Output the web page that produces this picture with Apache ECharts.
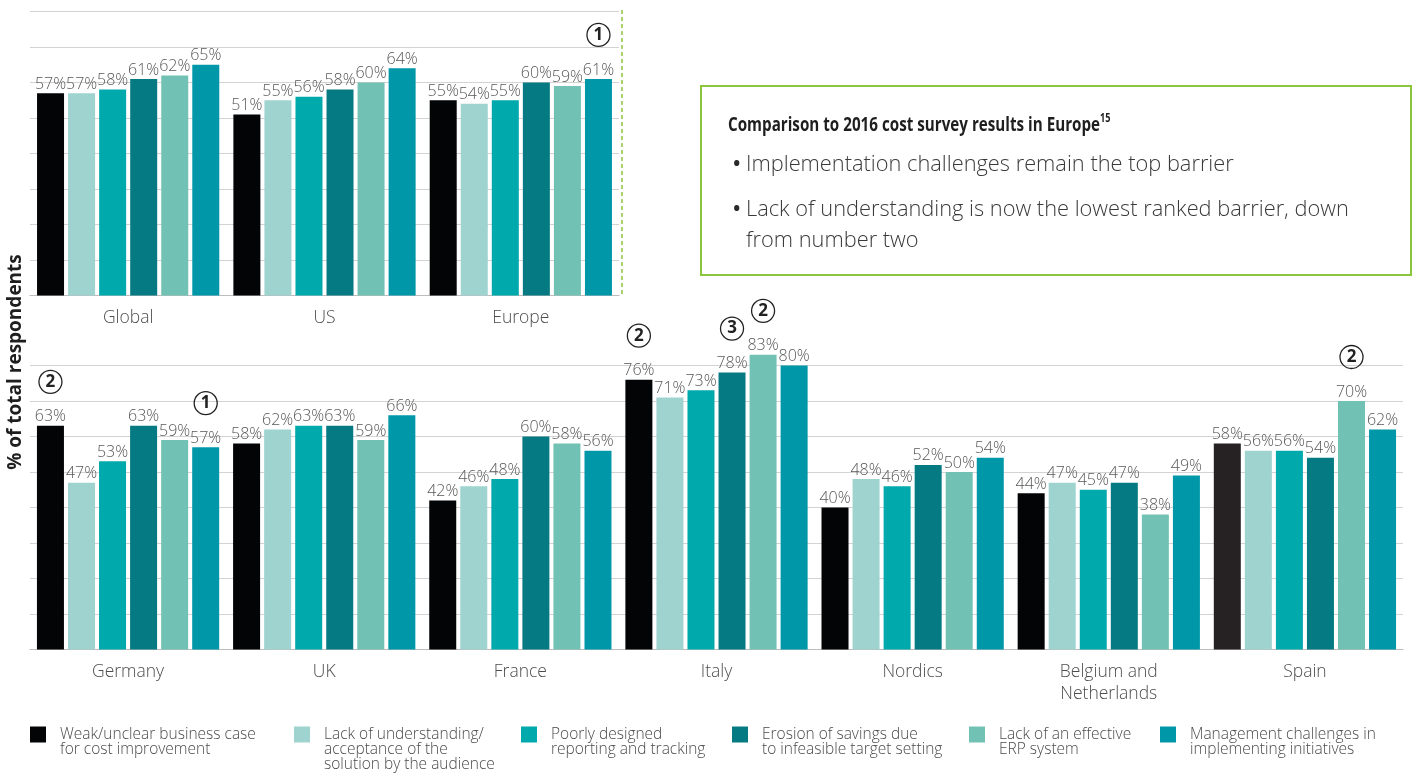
<!DOCTYPE html>
<html>
<head>
<meta charset="utf-8">
<script src="https://cdn.jsdelivr.net/npm/echarts@6/dist/echarts.min.js"></script>
<style>
html,body{margin:0;padding:0;background:#fff;}
#chart{width:1413px;height:774px;}
</style>
</head>
<body>
<div id="chart"></div>
<script>
// ---- Data ----
const regionsTop = ['Global', 'US', 'Europe'];
const regionsBottom = ['Germany', 'UK', 'France', 'Italy', 'Nordics', 'Belgium and\nNetherlands', 'Spain'];
const regions = regionsTop.concat(regionsBottom);

const seriesNames = [
  'Weak/unclear business case for cost improvement',
  'Lack of understanding/ acceptance of the solution by the audience',
  'Poorly designed reporting and tracking',
  'Erosion of savings due to infeasible target setting',
  'Lack of an effective ERP system',
  'Management challenges in implementing initiatives'
];
const legendLines = [
  ['Weak/unclear business case', 'for cost improvement'],
  ['Lack of understanding/', 'acceptance of the', 'solution by the audience'],
  ['Poorly designed', 'reporting and tracking'],
  ['Erosion of savings due', 'to infeasible target setting'],
  ['Lack of an effective', 'ERP system'],
  ['Management challenges in', 'implementing initiatives']
];

// values per series, in the order of `regions`
const weakCase          = [57, 51, 55, 63, 58, 42, 76, 40, 44, 58];
const lackUnderstanding = [57, 55, 54, 47, 62, 46, 71, 48, 47, 56];
const poorReporting     = [58, 56, 55, 53, 63, 48, 73, 46, 45, 56];
const erosionSavings    = [61, 58, 60, 63, 63, 60, 78, 52, 47, 54];
const lackERP           = [62, 60, 59, 59, 59, 58, 83, 50, 38, 70];
const mgmtChallenges    = [65, 64, 61, 57, 66, 56, 80, 54, 49, 62];
const seriesValues = [weakCase, lackUnderstanding, poorReporting, erosionSavings, lackERP, mgmtChallenges];

// circled note markers: [region, series index, number]
const notes = [
  ['Europe', 5, '1'],
  ['Germany', 0, '2'],
  ['Germany', 5, '1'],
  ['Italy', 0, '2'],
  ['Italy', 3, '3'],
  ['Italy', 4, '2'],
  ['Spain', 4, '2']
];

const boxTitle = 'Comparison to 2016 cost survey results in Europe';
const boxTitleSup = '15';
const boxBullets = [
  ['Implementation challenges remain the top barrier'],
  ['Lack of understanding is now the lowest ranked barrier, down', 'from number two']
];
const yAxisTitle = '% of total respondents';
const yTicks = {min: 0, max: 80, interval: 10};

// ---- Styles ----
const colors = ['#030406', '#9ed3cf', '#00a9ab', '#067a82', '#71c2b4', '#0097a9'];
const spainBlack = '#262223';
const FONT = "'Open Sans', 'Noto Sans', sans-serif";
const gridColor = '#d3d3d3';

function noteFor(region, si) {
  const n = notes.find(x => x[0] === region && x[1] === si);
  return n ? n[2] : null;
}

const chart = echarts.init(document.getElementById('chart'));

const gridTopBox = {left: 30, top: 11.5, width: 589, height: 284};
const gridBotBox = {left: 30, top: 365.5, width: 1373, height: 284};

function xAxisCfg(gridIndex, data) {
  return {
    type: 'category', gridIndex, data,
    axisTick: {show: false},
    axisLine: {show: true, lineStyle: {color: '#bdbdbd', width: 1.2}},
    axisLabel: {color: '#4d4d4d', fontSize: 17.5, fontWeight: 300, fontFamily: FONT, margin: 12, lineHeight: 22}
  };
}
function yAxisCfg(gridIndex) {
  return {
    type: 'value', gridIndex, min: yTicks.min, max: yTicks.max, interval: yTicks.interval,
    axisLabel: {show: false}, axisTick: {show: false}, axisLine: {show: false},
    splitLine: {show: true, lineStyle: {color: gridColor, width: 1.2}}
  };
}

const series = [];
seriesValues.forEach((vals, si) => {
  [[regionsTop, 0, 0], [regionsBottom, 1, 3]].forEach(([cats, axisIdx, offset]) => {
    series.push({
      name: seriesNames[si],
      type: 'bar',
      xAxisIndex: axisIdx, yAxisIndex: axisIdx,
      barWidth: 27,
      barGap: '15%',
      clip: false,
      itemStyle: {color: colors[si]},
      data: cats.map((c, ci) => {
        const v = vals[ci + offset];
        if (si === 0 && c === 'Spain') return {value: v, itemStyle: {color: spainBlack}};
        return v;
      }),
      label: {
        show: true, position: 'top', distance: 1,
        color: '#585858', fontSize: 16, fontWeight: 300, fontFamily: FONT,
        formatter: p => {
          const n = noteFor(cats[p.dataIndex], si);
          return n ? `{n|${n}}\n{v|${p.value}%}` : `${p.value}%`;
        },
        rich: {
          n: {width: 23, height: 23, borderRadius: 12.5, borderColor: '#222', borderWidth: 1.3,
              align: 'center', fontSize: 17, fontWeight: 'bold', color: '#222', lineHeight: 54, fontFamily: FONT},
          v: {color: '#585858', fontSize: 16, fontWeight: 300, fontFamily: FONT, lineHeight: 16, align: 'center'}
        }
      }
    });
  });
});

// legends: one component per entry to place them like the original
const legendIconLefts = [30, 294, 521, 732, 969, 1160];
const legendIconTop = 726;
const legendLH = 15;
const legends = seriesNames.map((nm, i) => {
  const n = legendLines[i].length;
  const H = (2 * n - 1) * legendLH;
  const blank = new Array(n - 1).fill('').join('\n');
  return {
    data: [nm],
    left: legendIconLefts[i],
    top: legendIconTop - (H / 2 - 8),
    padding: 0,
    icon: 'rect',
    itemWidth: 16, itemHeight: 16,
    selectedMode: true,
    formatter: () => blank + '\n' + legendLines[i].join('\n'),
    textStyle: {
      color: '#4a4a4a', fontSize: 15.5, fontWeight: 300, fontFamily: FONT, lineHeight: legendLH,
      padding: [0, 0, 0, 9]
    }
  };
});

const graphics = [
  // y axis title
  {type: 'text', x: 16, y: 362, rotation: Math.PI / 2,
   style: {text: yAxisTitle, fontSize: 19, fontWeight: 'bold', fontFamily: FONT, fill: '#1e1e1e',
           align: 'center', verticalAlign: 'middle'}},
  // green dashed separator
  {type: 'line', shape: {x1: 622, y1: 10, x2: 622, y2: 296},
   style: {stroke: '#8cc63f', lineWidth: 1.5, lineDash: [4, 3]}},
  // callout box
  {type: 'rect', shape: {x: 701, y: 86, width: 710, height: 189},
   style: {fill: '#fff', stroke: '#8cc63f', lineWidth: 2}},
  {type: 'text', x: 728, y: 125, scaleX: 0.76,
   style: {text: `{t|${boxTitle}}{s|${boxTitleSup}}`, verticalAlign: 'middle', align: 'left',
           rich: {
             t: {fontSize: 20, fontWeight: 'bold', fontFamily: FONT, fill: '#1e1e1e', lineHeight: 24},
             s: {fontSize: 12, fontWeight: 'bold', fontFamily: FONT, fill: '#1e1e1e', verticalAlign: 'top', lineHeight: 24}
           }}}
];
let by = 165;
boxBullets.forEach(lines => {
  graphics.push({type: 'text', x: 732, y: by,
    style: {text: '•', fontSize: 25, fontFamily: FONT, fill: '#2a2a2a', align: 'left', verticalAlign: 'middle'}});
  lines.forEach((ln, k) => {
    graphics.push({type: 'text', x: 746, y: by + k * 31,
      style: {text: ln, fontSize: 21.8, fontWeight: 300, fontFamily: FONT, fill: '#3a3a3a', align: 'left', verticalAlign: 'middle'}});
  });
  by += 45;
});

chart.setOption({
  backgroundColor: '#fff',
  animation: false,
  color: colors,
  textStyle: {fontFamily: FONT},
  grid: [
    Object.assign({containLabel: false}, gridTopBox),
    Object.assign({containLabel: false}, gridBotBox)
  ],
  xAxis: [xAxisCfg(0, regionsTop), xAxisCfg(1, regionsBottom)],
  yAxis: [yAxisCfg(0), yAxisCfg(1)],
  legend: legends,
  series,
  graphic: graphics
});
</script>
</body>
</html>
